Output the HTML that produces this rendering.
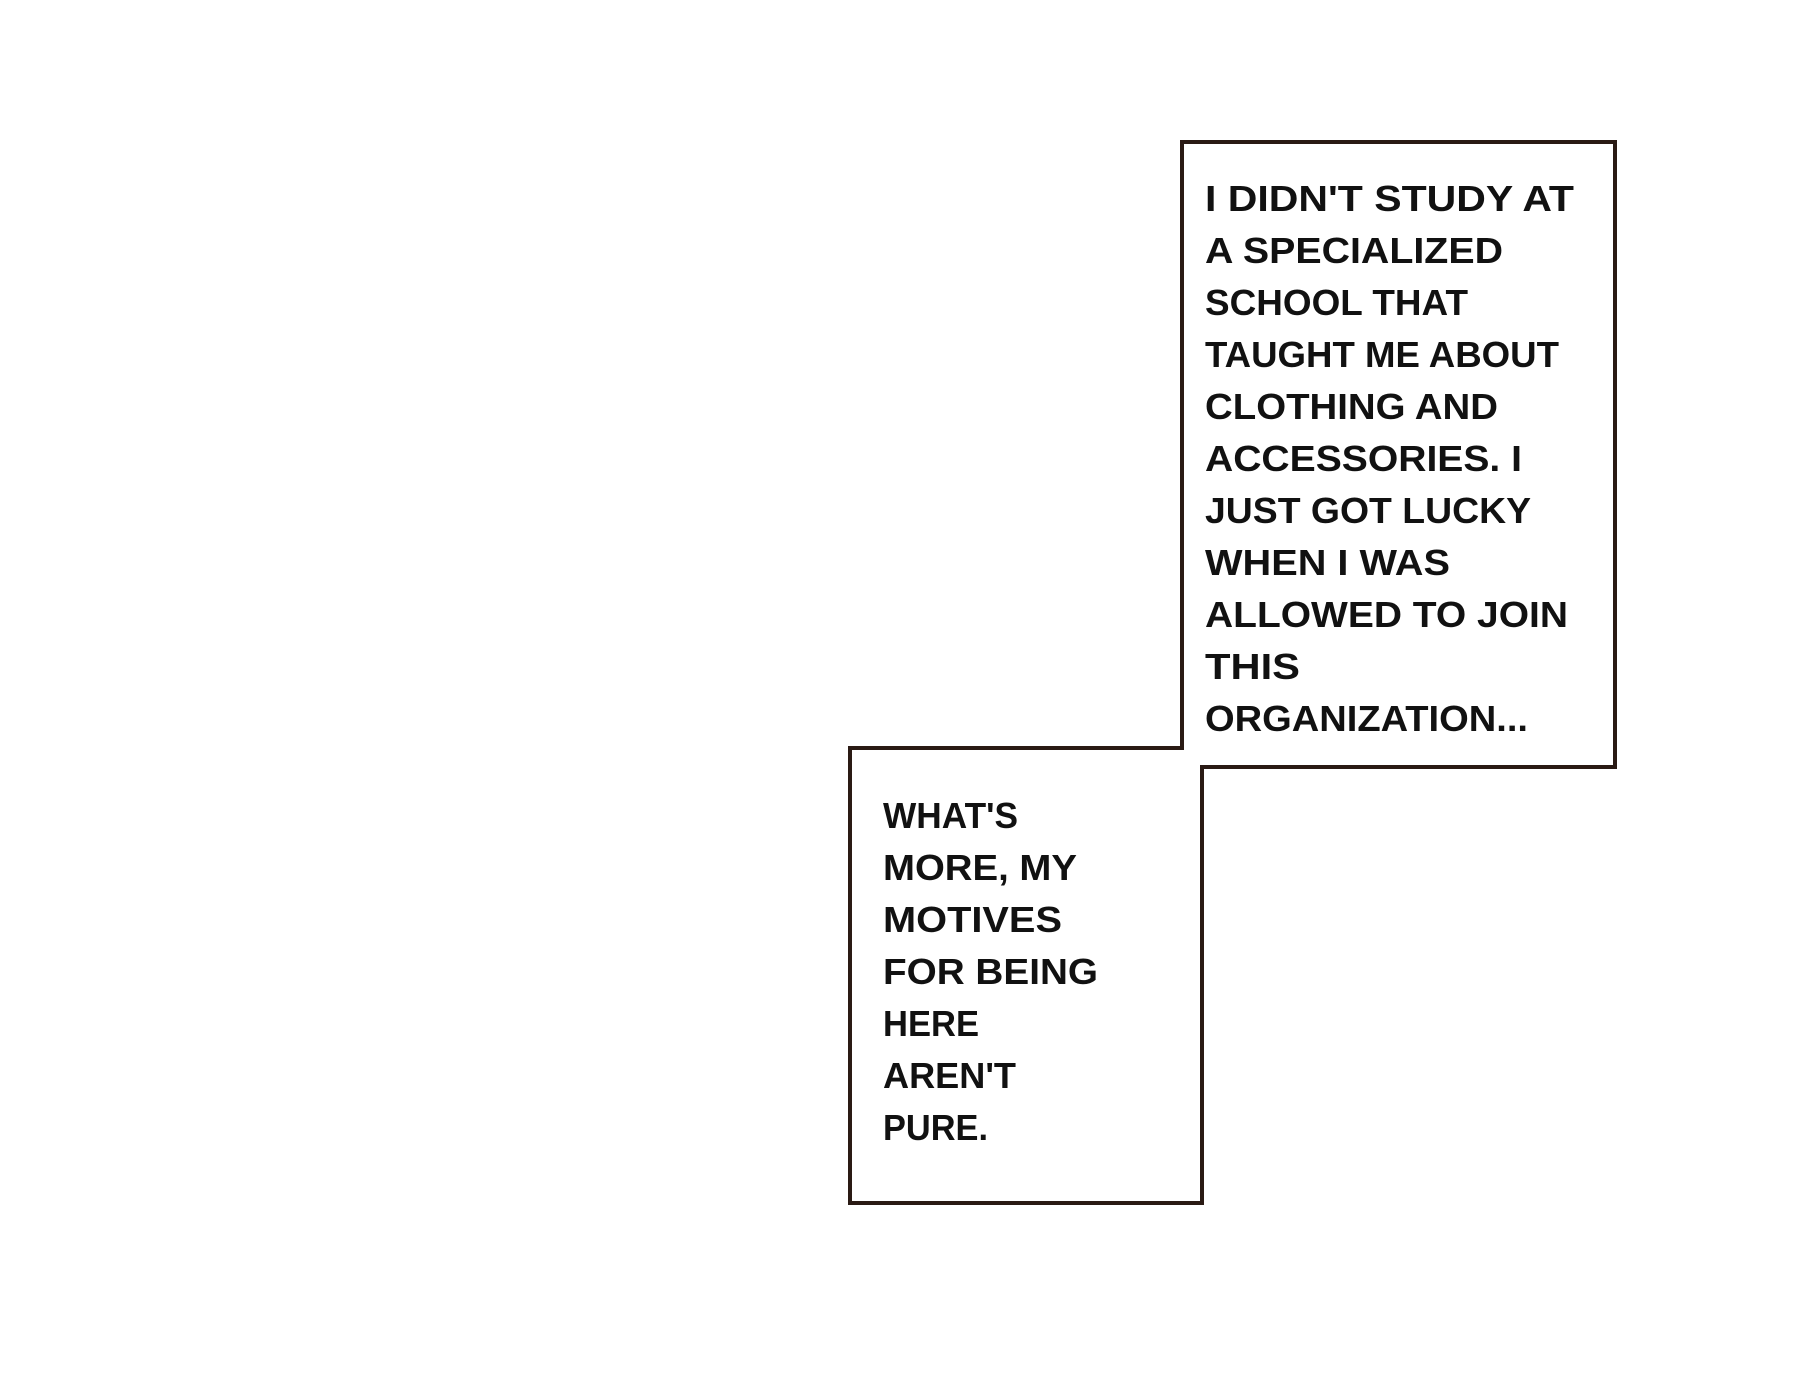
<!DOCTYPE html>
<html><head><meta charset="utf-8"><style>
html,body{margin:0;padding:0;background:#fff;}
svg{display:block}
text{font-family:"Liberation Sans",sans-serif;font-weight:bold;font-size:36px;fill:#111;}
</style></head><body>
<svg width="1800" height="1394" viewBox="0 0 1800 1394" xmlns="http://www.w3.org/2000/svg">
<rect width="1800" height="1394" fill="#fff"/>
<path d="M850 748 L1182 748 L1182 142 L1615 142 L1615 767 L1202 767 L1202 1203 L850 1203 Z" fill="#fff" stroke="#2a1a14" stroke-width="4"/>
<g>
<text x="1205" y="211" textLength="369" lengthAdjust="spacingAndGlyphs">I DIDN'T STUDY AT</text>
<text x="1205" y="263" textLength="298" lengthAdjust="spacingAndGlyphs">A SPECIALIZED</text>
<text x="1205" y="315" textLength="263" lengthAdjust="spacingAndGlyphs">SCHOOL THAT</text>
<text x="1205" y="367" textLength="354" lengthAdjust="spacingAndGlyphs">TAUGHT ME ABOUT</text>
<text x="1205" y="419" textLength="293" lengthAdjust="spacingAndGlyphs">CLOTHING AND</text>
<text x="1205" y="471" textLength="317" lengthAdjust="spacingAndGlyphs">ACCESSORIES. I</text>
<text x="1205" y="523" textLength="326" lengthAdjust="spacingAndGlyphs">JUST GOT LUCKY</text>
<text x="1205" y="575" textLength="245" lengthAdjust="spacingAndGlyphs">WHEN I WAS</text>
<text x="1205" y="627" textLength="363" lengthAdjust="spacingAndGlyphs">ALLOWED TO JOIN</text>
<text x="1205" y="679" textLength="95" lengthAdjust="spacingAndGlyphs">THIS</text>
<text x="1205" y="731" textLength="323" lengthAdjust="spacingAndGlyphs">ORGANIZATION...</text>
</g>
<g>
<text x="883" y="828" textLength="135" lengthAdjust="spacingAndGlyphs">WHAT'S</text>
<text x="883" y="880" textLength="194" lengthAdjust="spacingAndGlyphs">MORE, MY</text>
<text x="883" y="932" textLength="179" lengthAdjust="spacingAndGlyphs">MOTIVES</text>
<text x="883" y="984" textLength="215" lengthAdjust="spacingAndGlyphs">FOR BEING</text>
<text x="883" y="1036" textLength="96" lengthAdjust="spacingAndGlyphs">HERE</text>
<text x="883" y="1088" textLength="133" lengthAdjust="spacingAndGlyphs">AREN'T</text>
<text x="883" y="1140" textLength="105" lengthAdjust="spacingAndGlyphs">PURE.</text>
</g>
</svg>
</body></html>
